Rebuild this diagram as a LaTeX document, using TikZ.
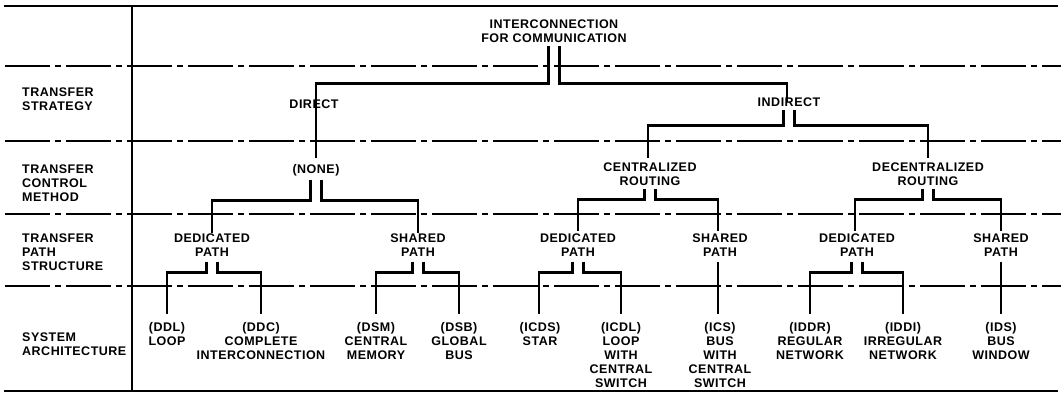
\documentclass[tikz,border=0pt]{standalone}
\usepackage{fontspec}
\setmainfont{Liberation Sans}[LetterSpace=4]
\begin{document}
\begin{tikzpicture}[x=1pt,y=-1pt,
  lab/.style={font=\fontsize{12.5}{14}\selectfont\bfseries, align=center, inner sep=0pt, anchor=north},
  rowlab/.style={lab, align=left, anchor=north west},
  conn/.style={line width=2.6pt, line cap=butt, line join=miter},
  sepline/.style={line width=1.8pt, dash pattern=on 45pt off 5pt on 6pt off 5pt},
  rulel/.style={line width=2.2pt}]
\useasboundingbox (0,0) rectangle (1061,393);

% frame lines
\coordinate (tl) at (4,6);
\coordinate (tr) at (1058,6);
\coordinate (bl) at (4,391);
\coordinate (br) at (1058,391);
\coordinate (vt) at (131.5,6);
\coordinate (vb) at (131.5,391);
\draw[rulel] (tl) -- (tr);
\draw[rulel] (bl) -- (br);
\draw[line width=2pt] (vt) -- (vb);
\foreach \yy/\nm in {66/a,141/b,214/c,286/d}{
  \coordinate (s\nm l) at (5,\yy);
  \coordinate (s\nm r) at (1061,\yy);
  \draw[sepline] (s\nm l) -- (s\nm r);
}

% row labels
\node[rowlab] (rstrat) at (22,87.5) {TRANSFER\\STRATEGY};
\node[rowlab] (rctrl) at (22,164.5) {TRANSFER\\CONTROL\\METHOD};
\node[rowlab] (rpath) at (22,233.5) {TRANSFER\\PATH\\STRUCTURE};
\node[rowlab] (rarch) at (22,332.5) {SYSTEM\\ARCHITECTURE};

% tree nodes
\node[lab] (root) at (554,19.5) {INTERCONNECTION\\FOR COMMUNICATION};
\node[lab] (direct) at (314,99.5) {DIRECT};
\node[lab] (indirect) at (789,97.5) {INDIRECT};
\node[lab] (none) at (316,164.5) {(NONE)};
\node[lab] (central) at (650,162.5) {CENTRALIZED\\ROUTING};
\node[lab] (decentral) at (928,162.5) {DECENTRALIZED\\ROUTING};
\node[lab] (dp1) at (212,233.5) {DEDICATED\\PATH};
\node[lab] (sp1) at (418,233.5) {SHARED\\PATH};
\node[lab] (dp2) at (578,233.5) {DEDICATED\\PATH};
\node[lab] (sp2) at (720,233.5) {SHARED\\PATH};
\node[lab] (dp3) at (857,233.5) {DEDICATED\\PATH};
\node[lab] (sp3) at (1001,233.5) {SHARED\\PATH};

\node[lab] (ddl) at (167,322) {(DDL)\\LOOP};
\node[lab] (ddc) at (261,322) {(DDC)\\COMPLETE\\INTERCONNECTION};
\node[lab] (dsm) at (376,322) {(DSM)\\CENTRAL\\MEMORY};
\node[lab] (dsb) at (459,322) {(DSB)\\GLOBAL\\BUS};
\node[lab] (icds) at (540,322) {(ICDS)\\STAR};
\node[lab] (icdl) at (621,322) {(ICDL)\\LOOP\\WITH\\CENTRAL\\SWITCH};
\node[lab] (ics) at (720,322) {(ICS)\\BUS\\WITH\\CENTRAL\\SWITCH};
\node[lab] (iddr) at (810,322) {(IDDR)\\REGULAR\\NETWORK};
\node[lab] (iddi) at (903,322) {(IDDI)\\IRREGULAR\\NETWORK};
\node[lab] (ids) at (1001,322) {(IDS)\\BUS\\WINDOW};

% connectors
\draw[conn] ([xshift=-5.5pt,yshift=-3.5pt]root.south) -- ++(0,37) -| ([yshift=6pt]none.north);
\draw[conn] ([xshift=5.5pt,yshift=-3.5pt]root.south) -- ++(0,37) -| ([xshift=-2pt]indirect.center);

\draw[conn] ([xshift=-5.5pt,yshift=-3.5pt]indirect.south) -- ++(0,15) -| ([xshift=-2pt,yshift=4.5pt]central.north);
\draw[conn] ([xshift=5.5pt,yshift=-3.5pt]indirect.south) -- ++(0,15) -| ([yshift=4.5pt]decentral.north);

\draw[conn] ([xshift=-5.5pt,yshift=-3pt]none.south) -- ++(0,21) -| ([yshift=1pt]dp1.north);
\draw[conn] ([xshift=5.5pt,yshift=-3pt]none.south) -- ++(0,21) -| ([yshift=1pt]sp1.north);

\draw[conn] ([xshift=-5.5pt,yshift=-3pt]central.south) -- ++(0,11) -| ([yshift=3pt]dp2.north);
\draw[conn] ([xshift=5.5pt,yshift=-3pt]central.south) -- ++(0,11) -| ([xshift=-2pt,yshift=3pt]sp2.north);

\draw[conn] ([xshift=-5.5pt,yshift=-3pt]decentral.south) -- ++(0,11) -| ([xshift=-2pt,yshift=3pt]dp3.north);
\draw[conn] ([xshift=5.5pt,yshift=-3pt]decentral.south) -- ++(0,11) -| ([yshift=3pt]sp3.north);

\draw[conn] ([xshift=-5.5pt,yshift=-5pt]dp1.south) -- ++(0,11) -| ([yshift=8pt]ddl.north);
\draw[conn] ([xshift=5.5pt,yshift=-5pt]dp1.south) -- ++(0,11) -| ([yshift=8pt]ddc.north);

\draw[conn] ([xshift=-5.5pt,yshift=-5pt]sp1.south) -- ++(0,11) -| ([yshift=8pt]dsm.north);
\draw[conn] ([xshift=5.5pt,yshift=-5pt]sp1.south) -- ++(0,11) -| ([yshift=8pt]dsb.north);

\draw[conn] ([xshift=-5.5pt,yshift=-5pt]dp2.south) -- ++(0,11) -| ([xshift=-1pt,yshift=8pt]icds.north);
\draw[conn] ([xshift=5.5pt,yshift=-5pt]dp2.south) -- ++(0,11) -| ([yshift=8pt]icdl.north);

\draw[conn] ([xshift=-2pt,yshift=-5pt]sp2.south) -- ([xshift=-2pt,yshift=8pt]ics.north);

\draw[conn] ([xshift=-5.5pt,yshift=-5pt]dp3.south) -- ++(0,11) -| ([yshift=8pt]iddr.north);
\draw[conn] ([xshift=5.5pt,yshift=-5pt]dp3.south) -- ++(0,11) -| ([yshift=8pt]iddi.north);

\draw[conn] ([yshift=-5pt]sp3.south) -- ([yshift=8pt]ids.north);
\end{tikzpicture}
\end{document}
